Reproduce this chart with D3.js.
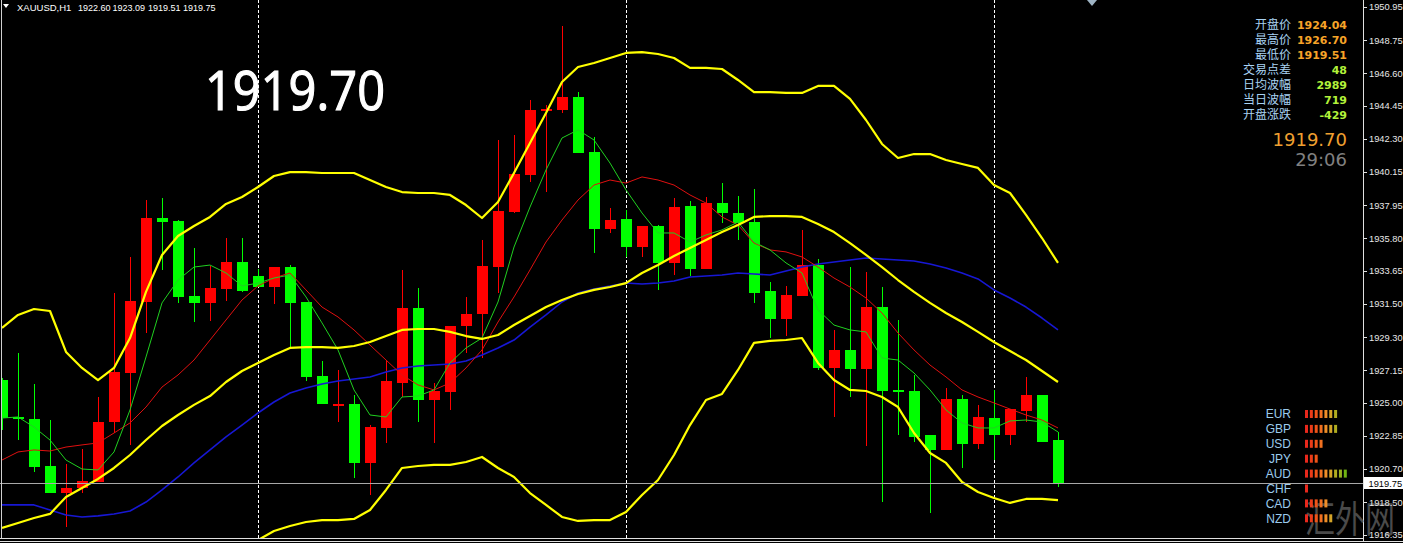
<!DOCTYPE html>
<html><head><meta charset="utf-8">
<script src="https://cdn.jsdelivr.net/npm/d3@7"></script>
<style>
html,body{margin:0;padding:0;background:#000;overflow:hidden}
svg{display:block}
</style></head><body>
<svg id="c" width="1403" height="543"></svg>
<script>
// ---------------- DATA ----------------
const symbolLabel = "XAUUSD,H1";
const headerOHLC = ["1922.60", "1923.09", "1919.51", "1919.75"];
const bigPrice = "1919.70";
const bidPrice = 1919.75;
const daySeparators = [16, 39, 62]; // bar index where a new day starts

const open = [1926.50,1924.08,1923.95,1920.87,1919.10,1919.43,1919.82,1923.75,1926.96,1931.61,1937.11,1936.92,1932.00,1931.55,1932.46,1934.23,1933.31,1932.59,1933.90,1931.61,1926.76,1924.87,1924.93,1921.07,1923.36,1926.31,1931.22,1925.19,1925.72,1930.04,1930.82,1933.90,1937.50,1939.93,1944.12,1944.18,1945.04,1941.43,1936.39,1937.05,1935.21,1936.59,1934.17,1937.90,1933.77,1938.09,1937.44,1936.85,1932.33,1930.50,1932.00,1934.03,1927.29,1928.47,1927.22,1931.28,1925.85,1925.78,1922.90,1921.92,1925.26,1922.31,1924.04,1922.90,1924.47,1925.52,1922.60];
const high = [1926.63,1928.27,1926.24,1923.88,1921.00,1921.98,1925.39,1932.20,1934.56,1938.29,1938.42,1936.98,1935.15,1933.97,1935.80,1935.80,1933.77,1933.90,1934.03,1931.61,1927.75,1927.16,1925.52,1923.55,1927.81,1933.71,1932.53,1926.31,1930.04,1931.94,1935.67,1942.22,1942.55,1944.84,1944.51,1949.69,1945.36,1942.42,1937.77,1937.64,1936.59,1936.65,1938.42,1938.23,1938.49,1939.40,1938.55,1939.01,1932.92,1932.66,1936.33,1934.43,1929.78,1933.90,1933.58,1932.59,1930.43,1926.83,1922.90,1925.98,1925.52,1924.87,1925.85,1924.60,1926.70,1925.52,1923.09];
const low = [1923.23,1922.57,1920.48,1919.10,1916.87,1919.10,1919.82,1923.03,1922.25,1929.58,1933.71,1931.55,1930.30,1930.37,1931.68,1932.27,1932.59,1931.48,1928.66,1926.44,1924.93,1923.75,1920.08,1918.97,1922.38,1925.39,1923.75,1922.38,1924.54,1928.27,1927.94,1932.20,1937.44,1939.47,1938.81,1943.99,1941.37,1934.82,1936.13,1934.56,1934.56,1932.40,1933.38,1933.31,1933.77,1936.78,1935.67,1931.55,1929.25,1929.38,1932.00,1927.16,1924.08,1925.39,1922.18,1918.51,1922.90,1922.44,1917.79,1921.92,1920.74,1921.98,1921.26,1922.25,1923.75,1922.44,1919.51];
const close = [1924.01,1923.95,1920.80,1919.10,1919.43,1919.89,1923.75,1927.03,1931.68,1937.11,1936.85,1931.94,1931.55,1932.53,1934.23,1932.33,1932.59,1933.90,1931.55,1926.70,1924.93,1924.93,1921.07,1923.42,1926.44,1931.22,1925.19,1925.78,1930.04,1930.82,1933.97,1937.57,1939.99,1944.18,1944.25,1945.04,1941.37,1936.39,1936.98,1935.21,1936.59,1934.17,1937.83,1933.77,1938.09,1937.44,1936.78,1932.20,1930.50,1932.07,1934.03,1927.29,1928.47,1927.22,1931.28,1925.78,1925.72,1922.77,1921.92,1925.26,1922.31,1924.08,1922.90,1924.60,1925.52,1922.44,1919.75];

const bbUpper = [1929.91,1930.76,1931.15,1931.02,1928.34,1927.29,1926.50,1927.29,1929.25,1932.27,1934.69,1935.93,1936.59,1937.18,1938.03,1938.49,1939.14,1939.86,1940.12,1940.12,1940.06,1940.06,1940.06,1939.60,1939.14,1938.81,1938.75,1938.75,1938.62,1937.96,1937.11,1938.16,1940.06,1942.02,1943.99,1946.02,1947.00,1947.26,1947.59,1947.92,1947.98,1947.85,1947.59,1946.94,1946.94,1946.87,1946.15,1945.36,1945.36,1945.30,1945.30,1945.76,1945.76,1944.91,1943.53,1941.96,1941.04,1941.30,1941.30,1940.91,1940.65,1940.39,1939.27,1938.75,1937.31,1935.80,1934.17];
const bbMiddle = [1916.81,1917.14,1917.46,1917.73,1918.84,1919.43,1920.02,1920.74,1921.59,1922.57,1923.49,1924.21,1924.87,1925.45,1926.37,1927.09,1927.62,1928.14,1928.60,1928.66,1928.66,1928.60,1928.73,1928.99,1929.38,1929.78,1929.84,1929.84,1929.65,1929.38,1929.19,1929.45,1930.10,1930.69,1931.28,1931.74,1932.13,1932.40,1932.59,1932.85,1933.51,1934.03,1934.62,1935.15,1935.67,1936.19,1936.65,1937.18,1937.24,1937.24,1937.18,1936.72,1936.19,1935.47,1934.69,1933.90,1933.05,1932.27,1931.55,1930.89,1930.30,1929.65,1928.99,1928.40,1927.81,1927.09,1926.37];
const bbLower = [1903.71,1903.51,1903.78,1904.43,1909.34,1911.57,1913.53,1914.19,1913.93,1912.88,1912.29,1912.49,1913.14,1913.73,1914.71,1915.70,1916.02,1916.61,1916.94,1917.20,1917.33,1917.33,1917.40,1917.99,1919.30,1920.74,1920.87,1920.94,1920.94,1921.13,1921.46,1920.74,1920.15,1919.10,1918.32,1917.53,1917.27,1917.33,1917.33,1917.86,1918.97,1919.95,1921.59,1923.55,1925.19,1925.59,1927.16,1928.93,1929.06,1929.12,1929.25,1927.62,1926.50,1925.85,1925.78,1925.39,1924.73,1923.03,1921.72,1921.07,1919.82,1919.17,1918.77,1918.45,1918.71,1918.71,1918.64];
const maFast = [1924.01,1924.08,1923.42,1922.57,1921.26,1920.67,1920.61,1921.79,1924.54,1928.01,1931.55,1933.05,1933.90,1934.03,1933.51,1932.66,1932.85,1933.18,1933.38,1931.94,1930.24,1928.47,1925.85,1924.21,1924.08,1925.39,1925.45,1925.85,1927.62,1928.60,1929.25,1931.61,1935.21,1937.83,1940.26,1942.35,1942.88,1942.22,1940.71,1938.95,1937.44,1936.13,1936.13,1935.54,1936.00,1936.33,1936.85,1935.54,1935.02,1934.17,1933.51,1931.09,1930.10,1929.78,1929.65,1927.94,1927.81,1926.96,1925.85,1924.54,1923.69,1923.36,1923.36,1923.82,1923.88,1923.75,1923.10];
const maMid = [1921.26,1921.79,1921.92,1921.85,1922.11,1922.25,1922.38,1923.03,1923.69,1924.73,1926.04,1926.83,1927.81,1929.12,1930.43,1931.74,1932.66,1933.18,1933.51,1932.40,1931.28,1930.63,1929.78,1928.79,1927.81,1926.83,1926.18,1925.85,1926.31,1927.29,1928.47,1930.30,1931.94,1933.71,1935.54,1936.98,1938.29,1939.27,1939.60,1939.40,1939.80,1939.60,1939.27,1938.62,1938.09,1937.18,1936.65,1935.47,1935.02,1934.89,1934.56,1933.90,1933.18,1932.59,1931.87,1930.89,1929.58,1928.47,1927.48,1926.70,1925.85,1925.39,1925.00,1924.60,1924.21,1923.88,1923.36];
const maSlow = [1918.32,1918.32,1918.32,1917.99,1917.66,1917.53,1917.60,1917.73,1917.92,1918.51,1919.30,1920.15,1921.07,1921.92,1922.77,1923.55,1924.34,1925.06,1925.65,1925.98,1926.24,1926.44,1926.57,1926.70,1927.03,1927.29,1927.42,1927.48,1927.55,1927.75,1928.14,1928.60,1929.12,1929.97,1930.76,1931.61,1932.20,1932.46,1932.66,1932.85,1932.79,1932.85,1932.99,1933.25,1933.31,1933.38,1933.51,1933.44,1933.38,1933.64,1933.90,1934.10,1934.23,1934.36,1934.49,1934.43,1934.36,1934.30,1934.10,1933.84,1933.51,1933.12,1932.40,1931.87,1931.28,1930.56,1929.78];

const priceTicks = ["1950.95","1948.75","1946.60","1944.45","1942.30","1940.15","1937.95","1935.80","1933.65","1931.50","1929.30","1927.15","1925.00","1922.85","1920.70","1918.50","1916.35"];

const infoLabels = ["开盘价","最高价","最低价","交易点差","日均波幅","当日波幅","开盘涨跌"];
const infoValues = ["1924.04","1926.70","1919.51","48","2989","719","-429"];
const infoPrice = "1919.70";
const infoTimer = "29:06";

const currencies = ["EUR","GBP","USD","JPY","AUD","CHF","CAD","NZD"];
const strengthBars = [7,7,4,3,9,1,5,6];
const watermark = "汇外网";

// ---------------- DRAW ----------------
const W = 1403, H = 543;
const svg = d3.select('#c');
svg.append('rect').attr('width', W).attr('height', H).attr('fill', '#000');

const plotR = 1363.5, plotB = 538;
const x = d3.scaleLinear().domain([0, open.length - 1]).range([2, 2 + 16 * (open.length - 1)]);
const y = d3.scaleLinear().domain([1916.35, 1950.95]).range([535, 6.7]);

const defs = svg.append('defs');
defs.append('clipPath').attr('id', 'pc').append('rect')
  .attr('x', 2).attr('y', 0).attr('width', plotR - 2).attr('height', plotB);

const plot = svg.append('g').attr('clip-path', 'url(#pc)');

// day separators
plot.selectAll('line.sep').data(daySeparators).join('line')
  .attr('x1', d => x(d) + 0.5).attr('x2', d => x(d) + 0.5)
  .attr('y1', 0).attr('y2', plotB)
  .attr('stroke', '#ffffff').attr('stroke-width', 1).attr('stroke-dasharray', '3,2');

// candles
const bars = open.map((o, i) => ({i, o, h: high[i], l: low[i], c: close[i]}));
const col = d => d.c >= d.o ? '#ff0000' : '#00ff00';
const cg = plot.append('g').attr('shape-rendering', 'crispEdges');
cg.selectAll('line.wick').data(bars).join('line')
  .attr('x1', d => x(d.i) + 0.5).attr('x2', d => x(d.i) + 0.5)
  .attr('y1', d => y(d.h)).attr('y2', d => y(d.l))
  .attr('stroke', col).attr('stroke-width', 1);
cg.selectAll('rect.body').data(bars).join('rect')
  .attr('x', d => x(d.i) - 5).attr('width', 11)
  .attr('y', d => Math.min(y(d.o), y(d.c)))
  .attr('height', d => Math.max(2, Math.abs(y(d.o) - y(d.c))))
  .attr('fill', col);

// indicator lines
const line = d3.line().x((d, i) => x(i)).y(d => y(d));
const lines = [
  {data: maSlow, color: '#1717d4', w: 1.6},
  {data: maMid, color: '#e01010', w: 1},
  {data: maFast, color: '#20d020', w: 1},
  {data: bbMiddle, color: '#ffff00', w: 2.2},
  {data: bbUpper, color: '#ffff00', w: 2.2},
  {data: bbLower, color: '#ffff00', w: 2.2}
];
plot.selectAll('path.ind').data(lines).join('path')
  .attr('d', d => line(d.data)).attr('fill', 'none')
  .attr('stroke', d => d.color).attr('stroke-width', d => d.w)
  .attr('stroke-linejoin', 'round');

// bid line
const by = Math.round(y(bidPrice)) + 0.5;
svg.append('line').attr('x1', 0).attr('x2', plotR).attr('y1', by).attr('y2', by)
  .attr('stroke', '#a8a8a8').attr('stroke-width', 1).attr('shape-rendering', 'crispEdges');

// frame
svg.append('line').attr('x1', 1.5).attr('x2', 1.5).attr('y1', 0).attr('y2', plotB)
  .attr('stroke', '#d0d0d0').attr('shape-rendering', 'crispEdges');
svg.append('line').attr('x1', 0).attr('x2', plotR).attr('y1', 538.5).attr('y2', 538.5)
  .attr('stroke', '#e0e0e0').attr('shape-rendering', 'crispEdges');
svg.append('line').attr('x1', 0).attr('x2', W).attr('y1', 541.5).attr('y2', 541.5)
  .attr('stroke', '#e0e0e0').attr('shape-rendering', 'crispEdges');
svg.append('line').attr('x1', plotR).attr('x2', plotR).attr('y1', 0).attr('y2', 542)
  .attr('stroke', '#e0e0e0').attr('shape-rendering', 'crispEdges');

// watermark (drawn beneath the axis labels)
const cjk = '"Noto Sans CJK SC", "Noto Sans", sans-serif';
svg.append('text').attr('transform', 'translate(1305,533) scale(1,1.25)')
  .text(watermark).attr('fill', '#6a6a6a').attr('opacity', 0.7)
  .style('font-family', cjk).style('font-size', '30px');

// right price axis
const axis = d3.axisRight(y).tickValues(priceTicks.map(Number))
  .tickFormat((d, i) => priceTicks[i]).tickSize(3).tickPadding(2.5);
const ag = svg.append('g').attr('transform', `translate(${plotR},0)`).call(axis);
ag.select('.domain').remove();
ag.selectAll('.tick line').attr('stroke', '#e0e0e0').attr('shape-rendering', 'crispEdges');
ag.selectAll('.tick text').attr('fill', '#e8e8e8')
  .style('font-family', '"Liberation Sans", Arial, sans-serif').style('font-size', '9.3px');

// bid price label
svg.append('rect').attr('x', 1364).attr('y', by - 6.5).attr('width', 39).attr('height', 12).attr('fill', '#ffffff');
svg.append('text').attr('x', 1368.5).attr('y', by).attr('dy', '0.35em').text(bidPrice.toFixed(2))
  .attr('fill', '#000').style('font-family', '"Liberation Sans", Arial, sans-serif').style('font-size', '9.3px');

// header
svg.append('path').attr('d', 'M3,4 L9,4 L6,8 Z').attr('fill', '#ffffff');
const hf = '"Liberation Sans", Arial, sans-serif';
svg.append('text').attr('x', 17).attr('y', 11).text(symbolLabel)
  .attr('fill', '#ffffff').style('font-family', hf).style('font-size', '9.5px');
const hx = [78, 112.5, 148, 183];
svg.selectAll('text.hdr').data(headerOHLC).join('text')
  .attr('x', (d, i) => hx[i]).attr('y', 11).text(d => d)
  .attr('fill', '#ffffff').style('font-family', hf).style('font-size', '9px');

// small triangle top
svg.append('path').attr('d', 'M1087,0 L1097,0 L1092,6 Z').attr('fill', '#9fb4c4');

// big price
svg.append('text').attr('x', 205).attr('y', 110).text(bigPrice)
  .attr('fill', '#ffffff').attr('stroke', '#ffffff').attr('stroke-width', 1.2)
  .attr('textLength', 180).attr('lengthAdjust', 'spacingAndGlyphs')
  .style('font-family', '"Open Sans", "Liberation Sans", sans-serif').style('font-size', '55px');

// info panel
const rowY = [25, 40, 55, 70, 85, 100, 115];
svg.selectAll('text.il').data(infoLabels).join('text')
  .attr('x', 1291).attr('y', (d, i) => rowY[i]).attr('dy', '0.36em').attr('text-anchor', 'end')
  .text(d => d).attr('fill', '#a9d2f2').style('font-family', cjk).style('font-size', '12px');
svg.selectAll('text.iv').data(infoValues).join('text')
  .attr('x', 1347).attr('y', (d, i) => rowY[i]).attr('dy', '0.36em').attr('text-anchor', 'end')
  .text(d => d).attr('fill', (d, i) => i < 3 ? '#f7a428' : '#b2f23a')
  .style('font-family', '"DejaVu Sans", sans-serif').style('font-size', '11px').style('font-weight', 'bold');
svg.append('text').attr('x', 1347).attr('y', 140).attr('dy', '0.36em').attr('text-anchor', 'end')
  .text(infoPrice).attr('fill', '#f0a030').style('font-family', '"DejaVu Sans", sans-serif').style('font-size', '18px');
svg.append('text').attr('x', 1347).attr('y', 160).attr('dy', '0.36em').attr('text-anchor', 'end')
  .text(infoTimer).attr('fill', '#808080').style('font-family', '"DejaVu Sans", sans-serif').style('font-size', '18px');

// currency strength panel
const barColors = ['#e8281c', '#ec3c18', '#f05418', '#f07020', '#ee8e28', '#d4a428', '#b0ac20', '#98b020', '#70b412'];
currencies.forEach((c, k) => {
  const cy = 414 + 14.9 * k;
  svg.append('text').attr('x', 1291).attr('y', cy).attr('dy', '0.36em').attr('text-anchor', 'end')
    .text(c).attr('fill', '#9ccbec').style('font-family', hf).style('font-size', '12px');
  svg.selectAll(null).data(d3.range(strengthBars[k])).join('rect')
    .attr('x', j => 1305 + j * 4.85).attr('y', cy - 4).attr('width', 3).attr('height', 8)
    .attr('fill', j => barColors[j]);
});
</script>
</body></html>
